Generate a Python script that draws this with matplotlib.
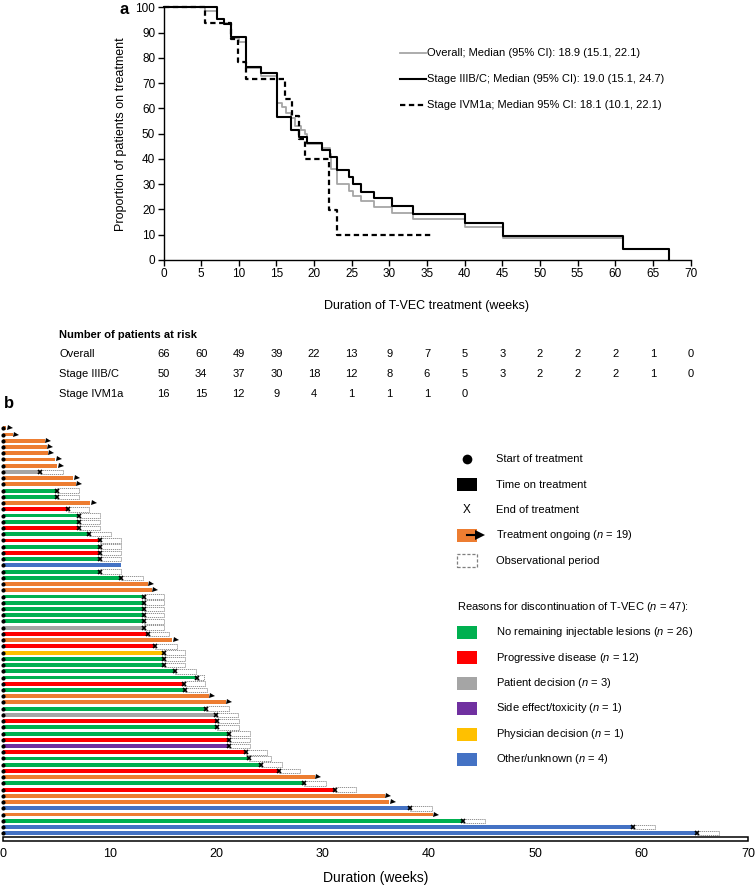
import matplotlib
matplotlib.use("Agg")
import matplotlib.pyplot as plt
from matplotlib.lines import Line2D
from matplotlib.patches import Rectangle

plt.rcParams['font.family'] = ['Liberation Sans', 'DejaVu Sans']
plt.rcParams['mathtext.fontset'] = 'custom'
plt.rcParams['mathtext.rm'] = 'Liberation Sans'
plt.rcParams['mathtext.it'] = 'Liberation Sans:italic'

# ---------------- Panel a data (Kaplan-Meier steps) ----------------
km_overall_t = [0, 5.5, 7.1, 8.0, 9.0, 10.0, 11.0, 13.0, 15.1, 15.7, 16.3, 17.0, 17.5, 18.2, 18.8,
                19.0, 21.0, 22.1, 22.3, 23.1, 24.7, 25.2, 26.2, 27.9, 30.3, 33.1, 40.0, 45.1, 61.1, 67.1]
km_overall_s = [100, 98.5, 95.5, 93.9, 87.9, 86.4, 75.8, 72.7, 62.1, 60.6, 58.3, 56.1, 53.0, 51.5, 50.0,
                45.9, 44.2, 41.9, 35.9, 29.9, 27.3, 25.3, 23.2, 21.1, 18.7, 16.4, 13.2, 8.6, 4.3, 0]
km_iiibc_t = [0, 7.1, 8.0, 9.0, 11.0, 13.0, 15.1, 17.0, 18.0, 19.0, 21.0, 22.1, 23.1, 24.7, 25.2,
              26.2, 27.9, 30.3, 33.1, 40.0, 45.1, 61.1, 67.1]
km_iiibc_s = [100, 95.3, 93.3, 88.3, 76.2, 74.0, 56.7, 51.4, 48.7, 46.4, 43.5, 40.8, 35.5, 32.7, 29.9,
              27.0, 24.4, 21.3, 18.3, 14.5, 9.6, 4.5, 0]
km_ivm1a_t = [0, 5.5, 9.0, 9.9, 11.0, 16.1, 17.1, 18.0, 18.8, 22.0, 23.0, 35.6]
km_ivm1a_s = [100, 93.75, 87.5, 78.4, 71.8, 63.8, 56.9, 48.0, 39.8, 19.8, 9.9, 9.9]

legend_a = ["Overall; Median (95% CI): 18.9 (15.1, 22.1)",
            "Stage IIIB/C; Median (95% CI): 19.0 (15.1, 24.7)",
            "Stage IVM1a; Median 95% CI: 18.1 (10.1, 22.1)"]

risk_times = [0, 5, 10, 15, 20, 25, 30, 35, 40, 45, 50, 55, 60, 65, 70]
risk_labels = ["Overall", "Stage IIIB/C", "Stage IVM1a"]
risk_overall = [66, 60, 49, 39, 22, 13, 9, 7, 5, 3, 2, 2, 2, 1, 0]
risk_iiibc = [50, 34, 37, 30, 18, 12, 8, 6, 5, 3, 2, 2, 2, 1, 0]
risk_ivm1a = [16, 15, 12, 9, 4, 1, 1, 1, 0]

# ---------------- Panel b data (swimmer plot) ----------------
status = ['ongoing', 'ongoing', 'ongoing', 'ongoing', 'ongoing', 'ongoing', 'ongoing', 'pt',
          'ongoing', 'ongoing', 'nrl', 'nrl', 'ongoing', 'pd', 'nrl', 'nrl', 'pd', 'nrl',
          'pd', 'nrl', 'pd', 'nrl', 'other', 'nrl', 'nrl', 'ongoing', 'ongoing', 'nrl',
          'nrl', 'nrl', 'nrl', 'nrl', 'pt', 'pd', 'ongoing', 'pd', 'phys', 'nrl', 'nrl',
          'nrl', 'nrl', 'pd', 'nrl', 'ongoing', 'ongoing', 'nrl', 'pt', 'pd', 'nrl', 'nrl',
          'pd', 'tox', 'pd', 'nrl', 'nrl', 'pd', 'ongoing', 'nrl', 'pd', 'ongoing',
          'ongoing', 'other', 'ongoing', 'nrl', 'other', 'other']
treat_end = [0.3, 0.9, 3.9, 4.1, 4.2, 4.9, 5.1, 3.5, 6.6, 6.8, 5.1, 5.1, 8.2, 6.1, 7.1, 7.1,
             7.1, 8.1, 9.1, 9.1, 9.1, 9.1, 11.1, 9.1, 11.1, 13.6, 14.0, 13.2, 13.2, 13.2, 13.2,
             13.2, 13.2, 13.6, 15.9, 14.3, 15.1, 15.1, 15.1, 16.1, 18.2, 17.0, 17.1, 19.3,
             20.9, 19.1, 20.0, 20.1, 20.1, 21.2, 21.2, 21.2, 22.8, 23.1, 24.2, 25.9, 29.3,
             28.3, 31.2, 35.9, 36.3, 38.2, 40.4, 43.2, 59.2, 65.2]
obs_end = [None, None, None, None, None, None, None, 5.6, None, None, 7.1, 7.1, None, 8.1,
           9.1, 9.1, 9.1, 10.1, 11.1, 11.1, 11.1, 11.1, None, 11.1, 13.1, None, None, 15.1,
           15.1, 15.1, 15.1, 15.1, 15.1, 15.6, None, 16.3, 17.1, 17.1, 17.1, 18.1, 18.9,
           19.0, 19.2, None, None, 21.2, 22.1, 22.2, 22.2, 23.2, 23.2, 23.2, 24.8, 25.2,
           26.2, 27.9, None, 30.3, 33.2, None, None, 40.3, None, 45.3, 61.3, 67.3]

colors = {'ongoing': '#ED7D31', 'nrl': '#00B050', 'pd': '#FF0000', 'pt': '#A5A5A5',
          'tox': '#7030A0', 'phys': '#FFC000', 'other': '#4472C4'}
reason_keys = ['nrl', 'pd', 'pt', 'tox', 'phys', 'other']
reason_labels = ["No remaining injectable lesions ($n$ = 26)", "Progressive disease ($n$ = 12)",
                 "Patient decision ($n$ = 3)", "Side effect/toxicity ($n$ = 1)",
                 "Physician decision ($n$ = 1)", "Other/unknown ($n$ = 4)"]

W, H = 756, 885
fig = plt.figure(figsize=(W / 100, H / 100), dpi=100)


def fx(px):
    return px / W


def fy(py):
    return 1 - py / H


# ================= Panel a =================
a_l, a_r, a_t, a_b = 163.5, 690.5, 7.3, 260
axa = fig.add_axes([fx(a_l), fy(a_b), (a_r - a_l) / W, (a_b - a_t) / H])
axa.step(km_overall_t, km_overall_s, where='post', color='#A6A6A6', lw=1.3, clip_on=False)
axa.step(km_iiibc_t, km_iiibc_s, where='post', color='black', lw=1.5, clip_on=False)
axa.step(km_ivm1a_t, km_ivm1a_s, where='post', color='black', lw=1.6, dashes=(2.4, 1.6),
         clip_on=False)
axa.set_xlim(0, 70)
axa.set_ylim(0, 100)
axa.set_xticks(range(0, 71, 5))
axa.set_yticks(range(0, 101, 10))
axa.spines['top'].set_visible(False)
axa.spines['right'].set_visible(False)
for s in ['left', 'bottom']:
    axa.spines[s].set_linewidth(1.0)
axa.tick_params(direction='out', length=4, width=1.0, labelsize=8.5, pad=2.0)
axa.set_xlabel("Duration of T-VEC treatment (weeks)", fontsize=9, labelpad=14)
axa.set_ylabel("Proportion of patients on treatment", fontsize=9, labelpad=6)

fig.text(fx(119), fy(9), "a", fontsize=12, fontweight='bold', ha='left', va='center')

# legend a
leg_y = [53.3, 79.0, 104.5]
leg_styles = [dict(color='#A6A6A6', lw=1.3), dict(color='black', lw=1.5),
              dict(color='black', lw=1.6, dashes=(2.4, 1.6))]
for y, lab, st in zip(leg_y, legend_a, leg_styles):
    fig.add_artist(Line2D([fx(400), fx(426)], [fy(y), fy(y)], **st))
    fig.text(fx(427), fy(y), lab, fontsize=8, ha='left', va='center')

# risk table
def tx(t):
    return a_l + t * (a_r - a_l) / 70.0

fig.text(fx(59), fy(335), "Number of patients at risk", fontsize=8, fontweight='bold',
         ha='left', va='center')
for y, lab, vals in zip([354, 374, 394], risk_labels, [risk_overall, risk_iiibc, risk_ivm1a]):
    fig.text(fx(59), fy(y), lab, fontsize=8, ha='left', va='center')
    for t, v in zip(risk_times, vals):
        fig.text(fx(tx(t)), fy(y), str(v), fontsize=8, ha='center', va='center')

fig.text(fx(4), fy(403), "b", fontsize=12, fontweight='bold', ha='left', va='center')

# ================= Panel b =================
b_l, b_r = 3.2, 748.0
row_px = 6.23
y_top_units, y_bot_units = 0.5, 67.3
b_top = 428.3 - (1 - y_top_units) * row_px
b_bot = 428.3 + (y_bot_units - 1) * row_px
axb = fig.add_axes([fx(b_l), fy(b_bot), (b_r - b_l) / W, (b_bot - b_top) / H])
axb.set_xlim(0, 70)
axb.set_ylim(y_bot_units, y_top_units)

bar_h = 0.62
obs_h = 0.72
for i, (st, e, oe) in enumerate(zip(status, treat_end, obs_end)):
    y = i + 1
    if oe is not None:
        axb.add_patch(Rectangle((e, y - obs_h / 2), oe - e, obs_h, facecolor='white',
                                edgecolor='#7F7F7F', lw=0.6, linestyle=(0, (1.5, 1.0)),
                                zorder=2))
    axb.barh(y, e, left=0, height=bar_h, color=colors[st], lw=0, zorder=3)
    if st == 'ongoing':
        axb.plot([e + 0.3], [y], marker='>', ms=3.6, color='black', mew=0, zorder=5,
                 clip_on=False)
    elif oe is not None:
        axb.plot([e], [y], marker='x', ms=3.3, mew=1.2, color='black', zorder=5)
    axb.plot([0], [y], marker='o', ms=3.0, color='black', mew=0, zorder=6, clip_on=False)

# bottom frame bar
axb.add_patch(Rectangle((0, 66.55), 70, 0.68, facecolor='white', edgecolor='black', lw=1.1,
                        zorder=4, clip_on=False))

for s in axb.spines.values():
    s.set_visible(False)
axb.set_yticks([])
axb.set_xticks(range(0, 71, 10))
axb.tick_params(axis='x', length=0, labelsize=9, pad=5)
axb.set_xlabel("Duration (weeks)", fontsize=10, labelpad=8)

# legend b
mx0, mh = 457, 13


def fig_rect(x0, yc, w, h, **kw):
    fig.add_artist(Rectangle((fx(x0), fy(yc + h / 2)), w / W, h / H, **kw))


y_start, y_time, y_end, y_ong, y_obs = 459.5, 484.8, 510.0, 535.4, 560.7
fig.add_artist(Line2D([fx(467)], [fy(y_start)], marker='o', ms=7, color='black', mew=0))
fig.text(fx(496), fy(y_start), "Start of treatment", fontsize=8, ha='left', va='center')
fig_rect(mx0, y_time, 20, mh, facecolor='black', edgecolor='none')
fig.text(fx(496), fy(y_time), "Time on treatment", fontsize=8, ha='left', va='center')
fig.text(fx(467), fy(y_end), "X", fontsize=8.5, ha='center', va='center')
fig.text(fx(496), fy(y_end), "End of treatment", fontsize=8, ha='left', va='center')
fig_rect(mx0, y_ong, 20, mh, facecolor=colors['ongoing'], edgecolor='none')
fig.add_artist(Line2D([fx(467), fx(479)], [fy(y_ong)] * 2, color='black', lw=1.5))
fig.add_artist(Line2D([fx(480)], [fy(y_ong)], marker='>', ms=7, color='black', mew=0))
fig.text(fx(496), fy(y_ong), "Treatment ongoing ($n$ = 19)", fontsize=8, ha='left', va='center')
fig_rect(mx0, y_obs, 20, mh, facecolor='white', edgecolor='#7F7F7F', lw=0.9,
         linestyle=(0, (2.5, 1.5)))
fig.text(fx(496), fy(y_obs), "Observational period", fontsize=8, ha='left', va='center')

fig.text(fx(457), fy(606.7), "Reasons for discontinuation of T-VEC ($n$ = 47):", fontsize=8,
         ha='left', va='center')
for k, lab, y in zip(reason_keys, reason_labels, [632.3, 657.7, 683.3, 708.3, 734.0, 759.3]):
    fig_rect(mx0, y, 20, mh, facecolor=colors[k], edgecolor='none')
    fig.text(fx(496), fy(y), lab, fontsize=8, ha='left', va='center')

fig.savefig("out.png", dpi=100)
